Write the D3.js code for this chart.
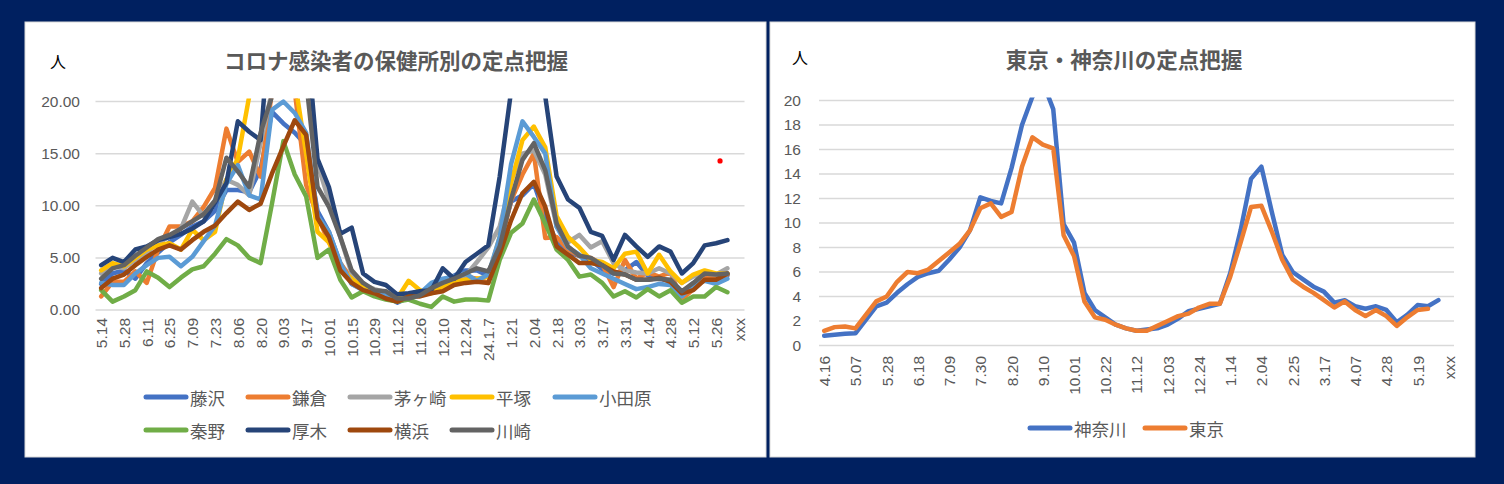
<!DOCTYPE html>
<html><head><meta charset="utf-8">
<script src="https://cdn.jsdelivr.net/npm/d3@7"></script>
<style>html,body{margin:0;padding:0;background:#002060;}svg{display:block}</style>
</head><body><svg id="c" width="1504" height="484"></svg>
<script>
// ---------- LEFT CHART DATA ----------
const leftCategories = ["5.14","5.21","5.28","6.04","6.11","6.18","6.25","7.02","7.09","7.16","7.23","7.30","8.06","8.13","8.20","8.27","9.03","9.10","9.17","9.24","10.01","10.08","10.15","10.22","10.29","11.05","11.12","11.19","11.26","12.03","12.10","12.17","12.24","12.31","24.1.7","1.14","1.21","1.28","2.04","2.11","2.18","2.25","3.03","3.10","3.17","3.24","3.31","4.07","4.14","4.21","4.28","5.05","5.12","5.19","5.26","6.02","xxx"];
const leftTickLabels = ["5.14","5.28","6.11","6.25","7.09","7.23","8.06","8.20","9.03","9.17","10.01","10.15","10.29","11.12","11.26","12.10","12.24","24.1.7","1.21","2.04","2.18","3.03","3.17","3.31","4.14","4.28","5.12","5.26","xxx"];
const leftYTicks = [0,5,10,15,20];
const leftSeriesNames = ["藤沢","鎌倉","茅ヶ崎","平塚","小田原","秦野","厚木","横浜","川崎"];
const fujisawa  = [2.5,3.5,3.8,3.0,4.5,5.5,6.5,7.2,8.0,8.5,9.5,11.5,11.5,11.3,13.5,19.0,17.9,17.0,15.8,9.5,7.5,4.5,2.5,2.0,1.5,1.4,0.7,1.2,1.5,2.3,2.9,3.3,3.8,3.8,3.3,6.5,10.4,11.0,12.1,9.0,6.5,5.5,5.2,4.8,3.9,3.5,3.8,4.6,3.3,3.0,2.8,1.6,2.5,3.2,2.9,3.3];
const kamakura  = [1.3,2.7,2.7,3.7,2.6,5.8,8.0,8.0,8.5,9.9,11.7,17.4,14.2,15.2,12.8,21,23,21,12,9,6.5,4.5,3.0,2.4,1.8,1.5,1.2,1.3,1.5,2.0,2.4,2.8,3.2,3.0,2.6,6.0,10.5,13.0,15.0,6.9,7.0,5.8,5.2,5.0,4.4,2.2,4.8,3.0,3.6,3.2,3.6,1.0,2.0,3.0,3.2,3.4];
const chigasaki = [3.5,4.2,4.0,4.8,5.5,6.5,7.0,7.8,10.4,9.0,10.5,12.5,12.0,11.0,16.0,21,24,26,24,14,10.5,7.0,3.5,2.4,2.0,1.7,1.3,1.2,1.5,2.0,2.6,3.2,3.3,4.6,6.0,8.0,12.5,15.0,15.3,13.0,8.0,6.5,7.2,6.0,6.6,4.5,3.8,3.6,3.5,4.0,3.5,2.6,3.2,3.5,3.4,4.0];
const hiratsuka = [3.8,4.5,4.2,5.0,5.8,6.2,6.4,5.8,7.7,6.7,7.5,12.5,14.5,20.5,25,28,26,22,15,7.5,6.5,4.0,3.0,2.2,1.8,1.3,1.1,2.8,1.9,1.6,2.2,2.7,2.9,3.0,3.2,7.0,12.2,16.3,17.6,15.6,9.0,7.0,6.0,4.8,4.6,4.0,5.4,5.6,3.5,5.3,3.7,2.6,3.4,3.8,3.5,3.5];
const odawara   = [2.6,2.4,2.4,3.5,4.3,5.0,5.1,4.2,5.1,6.6,8.1,12.1,13.9,11.0,10.6,19.2,20.0,18.9,17.0,9.0,7.5,4.5,2.5,1.9,1.6,1.4,0.8,1.2,1.6,2.6,3.0,3.2,3.5,2.8,3.4,7.0,14.0,18.1,16.6,15.0,8.0,6.0,5.3,4.0,3.5,3.0,2.5,2.0,2.2,2.5,2.4,1.3,2.4,2.8,2.5,3.0];
const hadano    = [1.9,0.8,1.3,1.9,3.7,3.1,2.2,3.1,3.9,4.2,5.4,6.8,6.2,5.0,4.5,10.2,16.2,13.0,10.9,5.0,5.8,2.9,1.2,1.8,1.3,1.0,0.8,1.0,0.6,0.3,1.3,0.8,1.0,1.0,0.9,4.8,7.4,8.3,10.6,8.3,5.8,4.8,3.2,3.4,2.6,1.3,1.8,1.2,2.0,1.3,1.9,0.7,1.3,1.3,2.2,1.7];
const atsugi    = [4.3,5.0,4.6,5.8,6.1,6.7,7.0,7.3,7.8,8.5,10.3,12.2,18.1,17.1,16.3,30,35,33,27,14.5,11.8,7.3,7.9,3.5,2.7,2.4,1.5,1.6,1.8,1.9,4.0,3.0,4.6,5.4,6.2,12.8,21,24,24,20.5,12.8,10.6,9.8,7.5,7.1,4.8,7.2,6.1,5.1,6.1,5.6,3.5,4.5,6.2,6.4,6.7];
const yokohama  = [2.1,3.0,3.4,4.3,5.1,5.8,6.2,5.8,6.7,7.5,8.1,9.3,10.4,9.6,10.2,13.1,15.7,18.2,16.8,8.8,7.0,3.8,2.6,1.9,1.6,1.1,0.8,1.3,1.3,1.6,1.8,2.4,2.6,2.7,2.6,5.4,8.6,11.2,12.3,9.9,6.1,5.3,4.5,4.5,4.3,3.7,3.4,2.9,2.9,3.1,2.7,1.6,1.9,2.9,2.9,3.5];
const kawasaki  = [3.0,4.0,4.3,5.2,6.0,6.8,7.2,7.8,8.5,9.2,10.5,14.6,13.3,11.8,17.0,20.5,24,25,22,11.8,9.9,7.0,3.8,2.6,1.9,1.8,1.1,1.1,1.4,2.1,2.6,3.0,3.5,4.0,3.7,6.1,10.6,14.4,16.0,13.4,8.3,6.1,5.2,5.0,4.3,3.5,3.4,2.9,2.9,3.0,2.9,1.8,2.6,3.5,3.4,3.5];
const leftOutlier = {category: "5.26", value: 14.3};

// ---------- RIGHT CHART DATA ----------
const rightCategories = ["4.16","4.23","4.30","5.07","5.14","5.21","5.28","6.04","6.11","6.18","6.25","7.02","7.09","7.16","7.23","7.30","8.06","8.13","8.20","8.27","9.03","9.10","9.17","9.24","10.01","10.08","10.15","10.22","10.29","11.05","11.12","11.19","11.26","12.03","12.10","12.17","12.24","12.31","1.07","1.14","1.21","1.28","2.04","2.11","2.18","2.25","3.03","3.10","3.17","3.24","3.31","4.07","4.14","4.21","4.28","5.05","5.12","5.19","5.26","6.02","xxx"];
const rightTickLabels = ["4.16","5.07","5.28","6.18","7.09","7.30","8.20","9.10","10.01","10.22","11.12","12.03","12.24","1.14","2.04","2.25","3.17","4.07","4.28","5.19","xxx"];
const rightYTicks = [0,2,4,6,8,10,12,14,16,18,20];
const rightSeriesNames = ["神奈川","東京"];
const kanagawa = [0.8,0.87,0.95,1.0,2.1,3.2,3.5,4.3,5.0,5.6,5.9,6.1,7.0,8.0,9.4,12.1,11.8,11.6,14.5,18.0,20.3,21.5,19.3,9.9,8.4,4.3,2.9,2.3,1.7,1.4,1.2,1.3,1.4,1.7,2.2,2.8,3.0,3.2,3.4,5.9,9.4,13.6,14.6,10.9,7.4,6.0,5.4,4.8,4.4,3.5,3.7,3.2,3.0,3.2,2.9,1.9,2.5,3.3,3.2,3.7];
const tokyo    = [1.2,1.5,1.55,1.4,2.5,3.6,4.0,5.2,6.0,5.9,6.2,6.9,7.6,8.3,9.4,11.2,11.6,10.5,10.9,14.6,17.0,16.4,16.1,9.0,7.3,3.6,2.3,2.1,1.7,1.4,1.2,1.2,1.6,2.0,2.4,2.6,3.1,3.4,3.4,5.6,8.4,11.3,11.4,9.3,7.0,5.4,4.8,4.3,3.7,3.1,3.6,2.9,2.4,2.9,2.4,1.6,2.3,2.9,3.0];

// ---------- DRAWING ----------
const svg = d3.select("#c");
const GRID = "#d9d9d9", TXT = "#595959";
const CJK = "'Noto Sans CJK JP','Noto Sans CJK SC',sans-serif";
const NUM = "'Liberation Sans',Arial,sans-serif";

svg.append("rect").attr("x",25).attr("y",22).attr("width",741).attr("height",435).attr("fill","#fff").attr("stroke","#d9d9d9");
svg.append("rect").attr("x",770).attr("y",22).attr("width",705).attr("height",435).attr("fill","#fff").attr("stroke","#d9d9d9");

function drawChart(cfg){
  const g = svg.append("g");
  const x = d3.scalePoint().domain(cfg.categories).range(cfg.xr).padding(0.5);
  const y = d3.scaleLinear().domain([0,20]).range(cfg.yr);
  // gridlines
  g.selectAll(".grid").data(cfg.yTicks).join("line")
    .attr("x1",cfg.xr[0]).attr("x2",cfg.xr[1])
    .attr("y1",d=>y(d)).attr("y2",d=>y(d))
    .attr("stroke",GRID).attr("stroke-width",1.5);
  // y axis
  const yAxis = d3.axisLeft(y).tickValues(cfg.yTicks).tickFormat(cfg.yFmt).tickSize(0).tickPadding(0);
  const ya = g.append("g").attr("transform",`translate(${cfg.yLabelX},0)`).call(yAxis);
  ya.select(".domain").remove();
  ya.selectAll("text").attr("fill",TXT).style("font-family",NUM).style("font-size","15.5px");
  // x axis
  const xAxis = d3.axisBottom(x).tickValues(cfg.tickLabels).tickSize(0).tickPadding(0);
  const xa = g.append("g").attr("transform",`translate(0,${cfg.xLabelY})`).call(xAxis);
  xa.select(".domain").remove();
  xa.selectAll("text").attr("fill",TXT).style("font-family",NUM).style("font-size","15.5px")
    .attr("text-anchor","end").attr("transform","rotate(-90)").attr("x",0).attr("y",0).attr("dy","0.35em");
  // clip
  const cid = "clip"+cfg.id;
  svg.append("clipPath").attr("id",cid).append("rect")
    .attr("x",cfg.xr[0]-5).attr("y",cfg.yr[1]-3).attr("width",cfg.xr[1]-cfg.xr[0]+10).attr("height",cfg.yr[0]-cfg.yr[1]+8);
  const line = d3.line().x((d,i)=>x(cfg.categories[i])).y(d=>y(d));
  const lg = g.append("g").attr("clip-path",`url(#${cid})`);
  cfg.series.forEach((s,k)=>{
    lg.append("path").attr("d",line(s)).attr("fill","none").attr("stroke",cfg.colors[k])
      .attr("stroke-width",cfg.lw).attr("stroke-linejoin","round").attr("stroke-linecap","round");
  });
  // title and unit
  g.append("text").attr("x",cfg.titleX).attr("y",cfg.titleY).attr("text-anchor","middle").attr("dominant-baseline","central")
    .attr("fill",TXT).style("font-family",CJK).style("font-weight","bold").style("font-size","21.5px").text(cfg.title);
  g.append("text").attr("x",cfg.unitX).attr("y",cfg.unitY).attr("text-anchor","middle").attr("dominant-baseline","central")
    .attr("fill","#000").style("font-family",CJK).style("font-size","16px").text("人");
  // legend
  cfg.names.forEach((n,k)=>{
    const p = cfg.legendPos[k];
    g.append("line").attr("x1",p[0]).attr("x2",p[0]+40).attr("y1",p[1]).attr("y2",p[1])
      .attr("stroke",cfg.colors[k]).attr("stroke-width",5).attr("stroke-linecap","round");
    g.append("text").attr("x",p[0]+44).attr("y",p[1]).attr("dominant-baseline","central")
      .attr("fill",TXT).style("font-family",CJK).style("font-size","17.5px").text(n);
  });
  return {g,x,y};
}

const L = drawChart({
  id:"L", categories:leftCategories, tickLabels:leftTickLabels, xr:[95.5,744.5], yr:[310,101.5],
  yTicks:leftYTicks, yFmt:d3.format(".2f"), yLabelX:80, xLabelY:318, lw:4.5,
  series:[fujisawa,kamakura,chigasaki,hiratsuka,odawara,hadano,atsugi,yokohama,kawasaki],
  colors:["#4472C4","#ED7D31","#A5A5A5","#FFC000","#5B9BD5","#70AD47","#264478","#9E480E","#636363"],
  names:leftSeriesNames, title:"コロナ感染者の保健所別の定点把握", titleX:396, titleY:59, unitX:58, unitY:61,
  legendPos:[[146,397],[248,397],[350,397],[452,397],[555,397],[146,430],[248,430],[350,430],[452,430]]
});
L.g.append("circle").attr("cx",L.x(leftOutlier.category)+4).attr("cy",L.y(leftOutlier.value)).attr("r",2.6).attr("fill","#ff0000");

drawChart({
  id:"R", categories:rightCategories, tickLabels:rightTickLabels, xr:[819,1454], yr:[345.5,100.5],
  yTicks:rightYTicks, yFmt:d3.format("d"), yLabelX:801, xLabelY:356, lw:4.5,
  series:[kanagawa,tokyo], colors:["#4472C4","#ED7D31"],
  names:rightSeriesNames, title:"東京・神奈川の定点把握", titleX:1124, titleY:58, unitX:800, unitY:57,
  legendPos:[[1030,428],[1145,428]]
});
</script></body></html>
